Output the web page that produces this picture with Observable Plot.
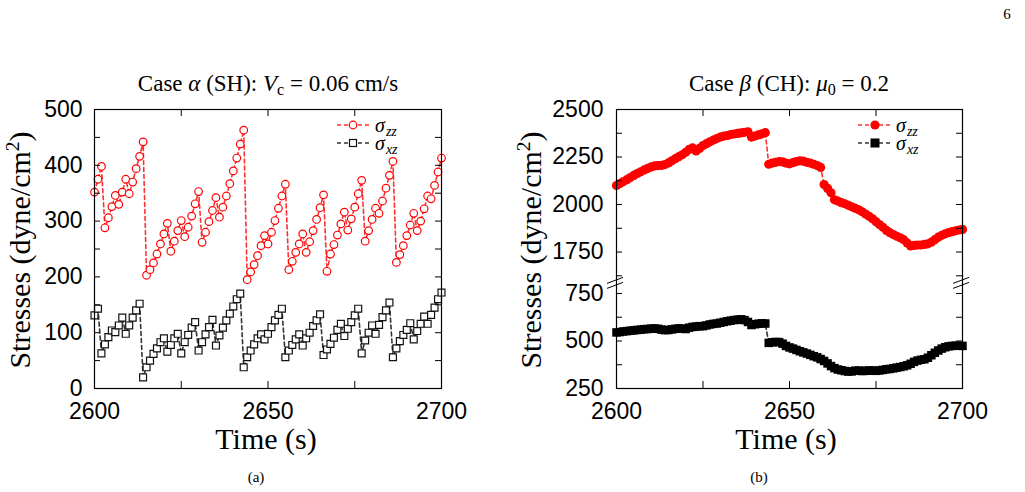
<!DOCTYPE html>
<html><head><meta charset="utf-8">
<script src="https://cdn.jsdelivr.net/npm/d3@7"></script>
<script src="https://cdn.jsdelivr.net/npm/@observablehq/plot@0.6"></script>
<style>
body{margin:0;background:#fff;}
#wrap{position:relative;width:1025px;height:492px;overflow:hidden;background:#fff;}
.abs{position:absolute;white-space:nowrap;line-height:1;}
.serif{font-family:"Liberation Serif","Times New Roman",serif;color:#000;}
.title{font-size:23px;transform:translateX(-50%);}
.ylab{font-size:30px;transform:translate(-50%,-50%) rotate(-90deg);}
.xlab{font-size:30px;transform:translateX(-50%);}
.cap{font-size:15px;transform:translate(-50%,-50%);}
.leg{font-size:20px;font-style:italic;display:flex;align-items:center;line-height:16px;}
.leg sub{font-size:14px;vertical-align:-4px;line-height:0;margin-left:1px;}
sup{font-size:0.65em;vertical-align:0.55em;line-height:0;}
#wrap > svg{position:absolute;top:0;}
</style></head>
<body><div id="wrap"></div>
<script>
// ---------- data ----------
const timesA = d3.range(2600, 2701);
const sigmaZZ_A = [352,375,398,288,306,326,346,330,352,375,349,370,394,416,442,203,213,225,241,259,277,296,246,264,283,301,272,289,309,331,353,262,280,299,319,342,307,325,345,367,390,413,438,463,195,209,222,238,256,274,259,280,301,323,345,366,213,228,244,259,277,244,263,283,303,324,347,210,241,258,275,295,316,284,304,325,349,373,264,283,303,323,314,336,359,382,407,226,240,256,274,293,314,283,300,322,345,340,364,388,413];
const sigmaXZ_A = [131,143,63,79,92,104,101,113,127,98,113,127,140,152,20,38,50,62,72,83,90,66,78,90,98,63,83,96,109,119,68,83,97,110,123,77,95,109,122,134,147,160,170,38,56,68,79,90,97,88,98,110,122,132,143,56,68,78,88,97,77,90,100,112,122,133,60,70,80,91,105,116,94,107,119,131,143,63,86,100,113,98,114,128,140,154,56,72,85,96,105,117,88,103,116,129,116,132,145,160,172];

const timesB = d3.range(2600, 2701);
const sigmaZZ_B = [2100,2110,2121,2131,2142,2153,2163,2172,2182,2190,2198,2203,2205,2206,2210,2219,2230,2241,2252,2262,2275,2290,2298,2282,2295,2310,2320,2330,2339,2347,2355,2360,2363,2368,2371,2374,2377,2380,2383,2355,2360,2366,2372,2378,2212,2218,2222,2226,2224,2218,2214,2220,2226,2230,2228,2222,2218,2212,2205,2195,2105,2085,2062,2025,2018,2010,2004,1996,1988,1980,1972,1962,1950,1938,1925,1910,1895,1880,1864,1852,1842,1833,1825,1815,1798,1782,1785,1787,1787,1790,1793,1802,1815,1828,1838,1846,1852,1857,1862,1866,1869];
const sigmaXZ_B = [545,547,550,552,554,556,558,560,562,563,565,566,564,560,557,558,561,564,566,565,563,570,574,576,578,578,582,587,590,592,596,600,604,607,610,612,614,610,600,584,588,591,593,592,490,493,495,494,486,474,466,460,453,446,440,434,427,420,414,405,395,382,368,357,350,346,342,339,340,344,344,342,343,345,344,343,345,348,351,353,356,360,363,367,372,380,390,397,401,404,412,425,438,450,460,467,472,474,475,475,474];

const xTicks = [2600, 2625, 2650, 2675, 2700];
const xLabels = [2600, 2650, 2700];
const yTicksA = [0,50,100,150,200,250,300,350,400,450,500];
const yLabelsA = [0,100,200,300,400,500];
const yTicksB = [250,375,500,625,750,1625,1750,1875,2000,2125,2250,2375,2500];
const yLabelsB = [250,500,750,1750,2000,2250,2500];
const breakLower = 803, breakUpper = 1585;   // axis break: values between are cut out
const gap = breakUpper - breakLower;
const brk = v => v > 1200 ? v - gap : v;

const rowsA = timesA.map((t, i) => ({t, zz: sigmaZZ_A[i], xz: sigmaXZ_A[i]}));
const rowsB = timesB.map((t, i) => ({t, zz: sigmaZZ_B[i], xz: sigmaXZ_B[i]}));

const wrap = document.getElementById("wrap");
const fmt = d => String(d);
const TICK_FONT = "'Liberation Sans', Arial, Helvetica, sans-serif";

function frameTicks(fw, fh, yTicks, yAcc) {
  return [
    Plot.tickY(yTicks, {y: yAcc, insetRight: fw - 6, stroke: "#000"}),
    Plot.tickY(yTicks, {y: yAcc, insetLeft: fw - 6, stroke: "#000"}),
    Plot.tickX(xTicks, {x: d => d, insetTop: fh - 7, stroke: "#000"}),
    Plot.tickX(xTicks, {x: d => d, insetBottom: fh - 7, stroke: "#000"})
  ];
}

// ---------- panel (a) ----------
{
  const W = 512, H = 492, mL = 94, mR = 71, mT = 109, mB = 104;
  const fw = W - mL - mR, fh = H - mT - mB;
  const p = Plot.plot({
    width: W, height: H, marginLeft: mL, marginRight: mR, marginTop: mT, marginBottom: mB,
    x: {domain: [2600, 2700], axis: null},
    y: {domain: [0, 500], axis: null},
    style: {fontFamily: TICK_FONT, fontSize: "23px", color: "#000", background: "transparent", overflow: "visible"},
    marks: [
      Plot.line(rowsA, {x: "t", y: "zz", stroke: "#ff3030", strokeWidth: 1.6, strokeDasharray: "4,3"}),
      Plot.line(rowsA, {x: "t", y: "xz", stroke: "#333", strokeWidth: 1.6, strokeDasharray: "4,3"}),
      Plot.dot(rowsA, {x: "t", y: "zz", r: 3.8, stroke: "#ff0000", fill: "#fff", strokeWidth: 1.2}),
      Plot.dot(rowsA, {x: "t", y: "xz", symbol: "square", r: 3.9, stroke: "#111", fill: "#fff", strokeWidth: 1.2}),
      Plot.frame({stroke: "#000", strokeWidth: 1.2}),
      ...frameTicks(fw, fh, yTicksA, d => d),
      Plot.text(yLabelsA, {y: d => d, text: fmt, frameAnchor: "left", textAnchor: "end", dx: -12, fill: "#000"}),
      Plot.text(xLabels, {x: d => d, text: fmt, frameAnchor: "bottom", lineAnchor: "top", dy: 14, fill: "#000"})
    ]
  });
  p.style.left = "0px";
  wrap.appendChild(p);
}

// ---------- panel (b) ----------
{
  const W = 513, H = 492, mL = 104, mR = 63, mT = 109, mB = 104;
  const fw = W - mL - mR, fh = H - mT - mB;
  const yTop = brk(2500), yBot = 250;
  const p = Plot.plot({
    width: W, height: H, marginLeft: mL, marginRight: mR, marginTop: mT, marginBottom: mB,
    x: {domain: [2600, 2700], axis: null},
    y: {domain: [yBot, yTop], axis: null},
    style: {fontFamily: TICK_FONT, fontSize: "23px", color: "#000", background: "transparent", overflow: "visible"},
    marks: [
      Plot.line(rowsB, {x: "t", y: d => brk(d.zz), stroke: "#ff3030", strokeWidth: 1.6, strokeDasharray: "4,3"}),
      Plot.line(rowsB, {x: "t", y: d => brk(d.xz), stroke: "#333", strokeWidth: 1.6, strokeDasharray: "4,3"}),
      Plot.dot(rowsB, {x: "t", y: d => brk(d.zz), r: 4.6, fill: "#ff0000"}),
      Plot.dot(rowsB, {x: "t", y: d => brk(d.xz), symbol: "square", r: 4.8, fill: "#000"}),
      Plot.frame({stroke: "#000", strokeWidth: 1.2}),
      ...frameTicks(fw, fh, yTicksB, d => brk(d)),
      Plot.text(yLabelsB, {y: d => brk(d), text: fmt, frameAnchor: "left", textAnchor: "end", dx: -13, fill: "#000"}),
      Plot.text(xLabels, {x: d => d, text: fmt, frameAnchor: "bottom", lineAnchor: "top", dy: 14, fill: "#000"})
    ]
  });
  p.style.left = "512px";
  // axis-break marks at the cut, on both frame edges
  try {
    const ys = mT + (yTop - breakLower) / (yTop - yBot) * fh;
    const NS = "http://www.w3.org/2000/svg";
    for (const xs of [mL, mL + fw]) {
      for (const off of [-2.5, 2.5]) {
        const l = document.createElementNS(NS, "line");
        l.setAttribute("x1", xs - 9); l.setAttribute("x2", xs + 7);
        l.setAttribute("y1", ys + off + 3); l.setAttribute("y2", ys + off - 3);
        l.setAttribute("stroke", "#000"); l.setAttribute("stroke-width", "1");
        p.appendChild(l);
      }
    }
  } catch (e) { console.error(e); }
  wrap.appendChild(p);
}

// ---------- texts ----------
function addText(html, cls, left, top) {
  const d = document.createElement("div");
  d.className = "abs serif " + cls;
  d.style.left = left + "px";
  d.style.top = top + "px";
  d.innerHTML = html;
  wrap.appendChild(d);
}
addText("Case <i>α</i> (SH): <i>V</i><sub style='font-size:0.7em;vertical-align:-0.25em'>c</sub> = 0.06 cm/s", "title", 268, 72);
addText("Case <i>β</i> (CH): <i>μ</i><sub style='font-size:0.7em;vertical-align:-0.25em'>0</sub> = 0.2", "title", 789, 72);
addText("Stresses (dyne/cm<sup>2</sup>)", "ylab", 20, 250);
addText("Stresses (dyne/cm<sup>2</sup>)", "ylab", 531, 250);
addText("Time (s)", "xlab", 266, 424);
addText("Time (s)", "xlab", 786, 424);
addText("(a)", "cap", 256, 477);
addText("(b)", "cap", 759, 477);
addText("6", "cap", 1007, 14);

function legend(x, y, lineColor, marker, label) {
  const d = document.createElement("div");
  d.className = "abs serif leg";
  d.style.left = x + "px";
  d.style.top = (y - 8) + "px";
  d.style.height = "16px";
  d.innerHTML = `<svg width="36" height="16" style="overflow:visible">
    <line x1="0" x2="34" y1="8" y2="8" stroke="${lineColor}" stroke-width="1.6" stroke-dasharray="4,3"/>
    ${marker}</svg><span style="margin-left:2px">σ<sub>${label}</sub></span>`;
  wrap.appendChild(d);
}
legend(337, 125, "#ff3030", `<circle cx="16" cy="8" r="3.8" fill="#fff" stroke="#f00" stroke-width="1.2"/>`, "zz");
legend(337, 143, "#333", `<rect x="12.5" y="4.5" width="7" height="7" fill="#fff" stroke="#111" stroke-width="1.2"/>`, "xz");
legend(858, 125, "#ff3030", `<circle cx="17" cy="8" r="4.6" fill="#f00"/>`, "zz");
legend(858, 143, "#333", `<rect x="12.5" y="3.5" width="9" height="9" fill="#000"/>`, "xz");
</script>
</body></html>
